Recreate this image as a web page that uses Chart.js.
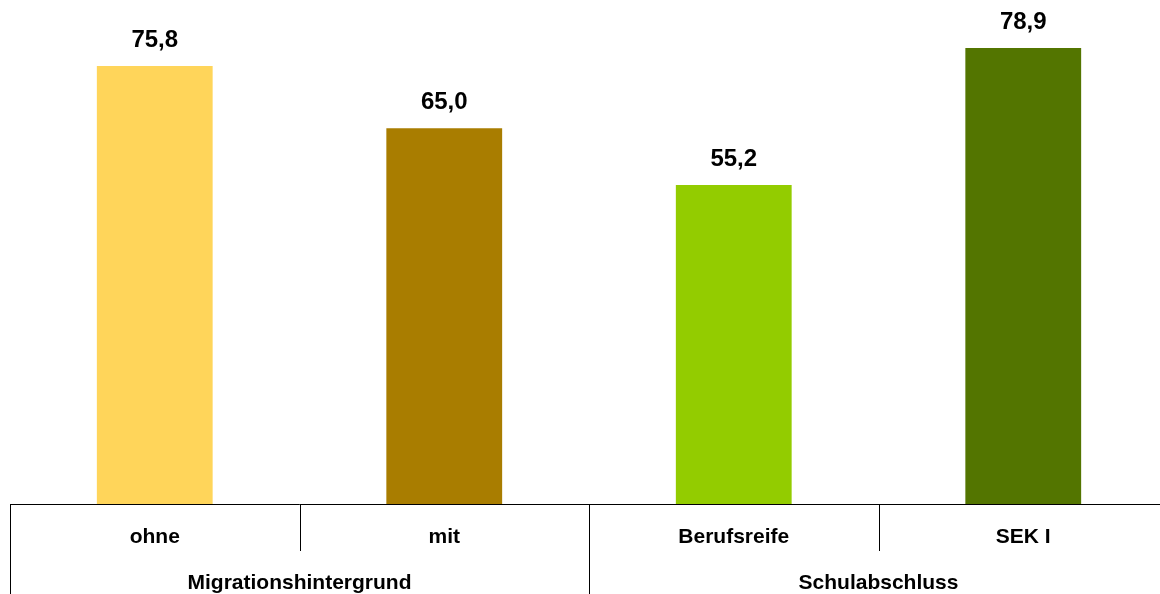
<!DOCTYPE html>
<html>
<head>
<meta charset="utf-8">
<script src="https://cdn.jsdelivr.net/npm/chart.js@4/dist/chart.umd.min.js"></script>
<style>
  html, body { margin: 0; padding: 0; background: #fff; overflow: hidden; }
  #wrap { width: 1168px; height: 594px; }
</style>
</head>
<body>
<div id="wrap"><canvas id="chart" width="1168" height="594"></canvas></div>
<script>
// Anteile nach Migrationshintergrund und Schulabschluss
const kategorien = ['ohne', 'mit', 'Berufsreife', 'SEK I'];
const gruppen = ['Migrationshintergrund', 'Schulabschluss'];
const werte = [75.8, 65.0, 55.2, 78.9];
const farben = ['#FFD55A', '#A97D00', '#93CC00', '#537500'];

const schrift = '"Liberation Sans", Arial, sans-serif';

// Werte über den Balken
const wertLabels = {
  id: 'wertLabels',
  afterDatasetsDraw(chart) {
    const ctx = chart.ctx;
    const meta = chart.getDatasetMeta(0);
    ctx.save();
    ctx.font = 'bold 24px ' + schrift;
    ctx.fillStyle = '#000';
    ctx.textAlign = 'center';
    ctx.textBaseline = 'alphabetic';
    meta.data.forEach((bar, i) => {
      ctx.fillText(werte[i].toFixed(1).replace('.', ','), bar.x, bar.y - 19);
    });
    ctx.restore();
  }
};

// Trennlinien und Gruppenbeschriftung unter der Achse
const gruppenAchse = {
  id: 'gruppenAchse',
  afterDraw(chart) {
    const ctx = chart.ctx;
    const x = chart.scales.x;
    const breite = (x.right - x.left) / kategorien.length;
    const oben = chart.chartArea.bottom;
    ctx.save();
    ctx.strokeStyle = '#000';
    ctx.lineWidth = 1;
    for (let i = 0; i <= kategorien.length; i++) {
      const px = Math.round(x.left + i * breite) + 0.5;
      const unten = (i % 2 === 0) ? chart.height : oben + 47;
      ctx.beginPath();
      ctx.moveTo(px, oben);
      ctx.lineTo(px, unten);
      ctx.stroke();
    }
    ctx.font = 'bold 21px ' + schrift;
    ctx.fillStyle = '#000';
    ctx.textAlign = 'center';
    ctx.textBaseline = 'alphabetic';
    gruppen.forEach((g, j) => {
      const mitte = x.left + (2 * j + 1) * breite;
      ctx.fillText(g, mitte, 589);
    });
    ctx.restore();
  }
};

new Chart(document.getElementById('chart'), {
  type: 'bar',
  data: {
    labels: kategorien,
    datasets: [{
      data: werte,
      backgroundColor: farben,
      borderWidth: 0,
      categoryPercentage: 1,
      barPercentage: 0.4
    }]
  },
  options: {
    responsive: false,
    animation: false,
    layout: { padding: { left: 10, right: 0, top: 0, bottom: 0 } },
    plugins: {
      legend: { display: false },
      tooltip: { enabled: false }
    },
    scales: {
      x: {
        grid: { display: false, drawTicks: false },
        border: { display: true, color: '#000', width: 1 },
        ticks: {
          color: '#000',
          font: { family: schrift, size: 21, weight: 'bold' },
          padding: 21,
          maxRotation: 0
        },
        afterFit(scale) { scale.height = 90; }
      },
      y: {
        display: false,
        min: 0,
        max: 87.2
      }
    }
  },
  plugins: [wertLabels, gruppenAchse]
});
</script>
</body>
</html>
